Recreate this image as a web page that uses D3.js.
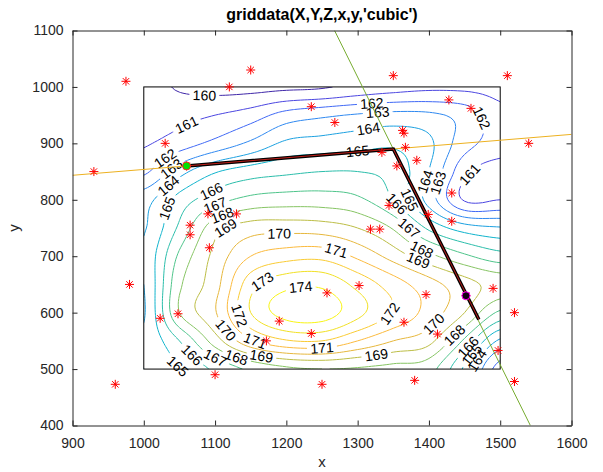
<!DOCTYPE html>
<html><head><meta charset="utf-8">
<script src="https://cdn.jsdelivr.net/npm/d3@7"></script>
<style>body{margin:0;background:#fff;} text{font-family:Arial,"Liberation Sans",Helvetica,sans-serif;}</style>
</head><body><svg id="c" width="603" height="472"></svg>
<script>
// ---------------- data ----------------
const gridX = [1000,1050,1100,1150,1200,1250,1300,1350,1400,1450,1500];
const gridY = [1000,950,900,850,800,750,700,650,600,550,500];
const gridZ = [
  [160.4,159.9,159.7,159.7,159.8,159.9,160.3,160.6,160.8,160.8,160.7],
  [160.6,160.7,161.0,161.5,162.4,162.8,163.1,163.3,163.2,162.6,161.3],
  [160.9,161.5,162.3,163.2,164.2,164.4,164.6,164.8,164.2,162.4,161.6],
  [161.8,163.6,164.9,165.5,165.8,166.0,166.0,165.6,164.0,161.3,160.5],
  [163.6,165.4,166.6,167.3,167.5,167.5,167.2,166.0,163.6,160.9,161.0],
  [163.9,166.2,168.6,169.5,169.6,169.5,169.0,167.9,165.8,164.5,164.1],
  [164.2,167.2,169.3,171.0,171.6,171.7,170.8,169.6,168.3,167.2,166.4],
  [164.0,167.8,169.6,172.6,173.7,173.8,172.7,171.5,170.4,169.4,168.6],
  [163.9,168.0,169.9,173.0,174.4,174.5,173.3,171.9,170.6,169.0,166.8],
  [164.2,166.0,168.5,170.8,171.9,172.0,171.0,170.0,169.3,166.8,163.8],
  [164.0,165.0,166.2,167.2,167.8,168.0,167.9,167.7,167.4,164.8,161.5]
];
const levels = [160,161,162,163,164,165,166,167,168,169,170,171,172,173,174];
const starX = [975,1150,1120,1350,1510,1235,1268,1428,1459,930,1030,1540,1363,1365,1367,1334,1383,1355,1060,1432,1344,1399,1432,1090,1130,1065,1065,1092,1318,1331,980,1023,1048,1190,1235,1172,1257,1302,1396,1452,1490,1365,1412,1497,1520,960,1100,1250,1380,1520];
const starY = [1010,1030,1000,1020,1020,965,937,977,962,850,900,900,923,918,893,884,870,860,860,812,790,774,762,775,775,755,738,715,748,748,650,590,598,585,563,550,635,648,632,630,643,583,562,533,600,473,490,473,480,478];
const orangeX = [900,1600], orangeY = [843.4,915.9];
const greenX = [1267.6,1542.3], greenY = [1100,400];
const pathX = [1060,1350,1470], pathY = [860,890,588];
const boxX = [1000,1500], boxY = [500,1000];
const greenDotX = 1060, greenDotY = 860;
const purpleDotX = 1452, purpleDotY = 630;
const labelLevel = [160,161,162,163,164,165,166,167,168,169,170,171,172,173,174,172,170,171,169,170,171,165,166,167,168,169,162,163,164,165,162,161,163,164,165,166,167,168,169,168,166,165,164];
const labelX = [1084,1063,1030,1040,1026,1020,1093,1100,1108,1107,1191,1268,1131,1175,1224,1343,1404,1252,1327,1112,1154,1072,1079,1107,1131,1166,1320,1327,1315,1299,1495,1460,1411,1387,1369,1355,1369,1385,1385,1439,1447,1453,1460];
const labelY = [987,924,871,853,835,789,812,797,783,766,723,705,595,640,622,601,584,527,524,563,539,524,542,536,524,511,977,957,925,887,954,841,832,838,800,791,746,705,684,560,545,535,521];
const xTicks = [900,1000,1100,1200,1300,1400,1500,1600];
const yTicks = [400,500,600,700,800,900,1000,1100];
const titleText = "griddata(X,Y,Z,x,y,'cubic')";

// ---------------- setup ----------------
const svg = d3.select("#c");
const X = d3.scaleLinear().domain([900,1600]).range([72.5,571.5]);
const Y = d3.scaleLinear().domain([400,1100]).range([425.5,30.5]);
const axisColor = "#262626";
const defs = svg.append("defs");

// parula-like colour ramp (one stop per contour level)
const levelColors = ["#3e26a8","#4a45e0","#3f68f5","#2e88f0","#1ba0e0","#0fb3cc","#2abdaa","#4ec48a","#86c463","#bcbd45","#e6b73c","#fbba3d","#f9cb33","#f1e024","#f8f414"];
const colorOf = d3.scaleOrdinal().domain(levels).range(levelColors);

// ---------------- field ----------------
const nx = gridX.length, ny = gridY.length;
function cr(p0,p1,p2,p3,t){return 0.5*((2*p1)+(-p0+p2)*t+(2*p0-5*p1+4*p2-p3)*t*t+(-p0+3*p1-3*p2+p3)*t*t*t);}
function getZ(i,j){i=Math.max(0,Math.min(nx-1,i));j=Math.max(0,Math.min(ny-1,j));return gridZ[j][i];}
function sample(gx,gy){
  const i=Math.min(Math.floor(gx),nx-2), j=Math.min(Math.floor(gy),ny-2);
  const tx=gx-i, ty=gy-j, r=[];
  for(let m=-1;m<=2;m++) r.push(cr(getZ(i-1,j+m),getZ(i,j+m),getZ(i+1,j+m),getZ(i+2,j+m),tx));
  return cr(r[0],r[1],r[2],r[3],ty);
}
const sub = 10;
const N = (nx-1)*sub+1, M = (ny-1)*sub+1;
const vals = new Array(N*M);
for(let j=0;j<M;j++) for(let i=0;i<N;i++) vals[j*N+i]=sample(i/sub,j/sub);
const stepX = (gridX[nx-1]-gridX[0])/(N-1), stepY = (gridY[ny-1]-gridY[0])/(M-1);
const cX = c => gridX[0]+(c-0.5)*stepX;
const cY = r => gridY[0]+(r-0.5)*stepY;
const conts = d3.contours().size([N,M]).thresholds(levels)(vals);

// clip to box
defs.append("clipPath").attr("id","boxclip").append("rect")
  .attr("x",X(boxX[0])).attr("y",Y(boxY[1]))
  .attr("width",X(boxX[1])-X(boxX[0])).attr("height",Y(boxY[0])-Y(boxY[1]));

// rings in data coordinates
const ringsByLevel = new Map();
conts.forEach(c=>{
  const rings=[];
  c.coordinates.forEach(poly=>poly.forEach(ring=>rings.push(ring.map(p=>[cX(p[0]),cY(p[1])]))));
  ringsByLevel.set(c.value,rings);
});

// label placement: snap each label to its contour and follow its direction
const labels=[];
labelLevel.forEach((L,k)=>{
  const rings=ringsByLevel.get(L)||[];
  const tx=X(labelX[k]), ty=Y(labelY[k]);
  let best=null, bd=1e9;
  rings.forEach(ring=>{
    ring.forEach((p,idx)=>{
      if(p[0]<boxX[0]+1||p[0]>boxX[1]-1||p[1]<boxY[0]+1||p[1]>boxY[1]-1) return;
      const d=Math.hypot(X(p[0])-tx,Y(p[1])-ty);
      if(d<bd){bd=d;best={ring,idx};}
    });
  });
  if(!best||bd>45) return;
  const n=best.ring.length, q=best.ring[best.idx];
  const a=best.ring[(best.idx-4+n)%n], b=best.ring[(best.idx+4)%n];
  let ang=Math.atan2(Y(b[1])-Y(a[1]),X(b[0])-X(a[0]))*180/Math.PI;
  if(ang>90) ang-=180; if(ang<-90) ang+=180;
  labels.push({L,x:X(q[0]),y:Y(q[1]),ang});
});

// masks (gap in each contour at its own labels)
levels.forEach(L=>{
  const m=defs.append("mask").attr("id","mk"+L).attr("maskUnits","userSpaceOnUse")
    .attr("x",0).attr("y",0).attr("width",603).attr("height",472);
  m.append("rect").attr("width",603).attr("height",472).attr("fill","#fff");
  labels.filter(d=>d.L===L).forEach(d=>{
    m.append("rect").attr("x",-15).attr("y",-6).attr("width",30).attr("height",12)
      .attr("transform",`translate(${d.x},${d.y}) rotate(${d.ang})`).attr("fill","#000");
  });
});

// ---------------- draw ----------------
const gC = svg.append("g").attr("clip-path","url(#boxclip)");
conts.forEach(c=>{
  let s="";
  c.coordinates.forEach(poly=>poly.forEach(ring=>{
    ring.forEach((p,k)=>{s+=(k?"L":"M")+X(cX(p[0])).toFixed(2)+","+Y(cY(p[1])).toFixed(2);});
    s+="Z";
  }));
  gC.append("path").attr("d",s).attr("fill","none").attr("stroke",colorOf(c.value))
    .attr("stroke-width",1).attr("stroke-linejoin","round").attr("mask",`url(#mk${c.value})`);
});

svg.append("g").selectAll("text").data(labels).join("text")
  .attr("transform",d=>`translate(${d.x},${d.y}) rotate(${d.ang})`)
  .attr("text-anchor","middle").attr("dy","0.35em")
  .attr("font-size",14).attr("fill","#000").text(d=>d.L);

// box
svg.append("rect").attr("x",X(boxX[0])).attr("y",Y(boxY[1]))
  .attr("width",X(boxX[1])-X(boxX[0])).attr("height",Y(boxY[0])-Y(boxY[1]))
  .attr("fill","none").attr("stroke","#000").attr("stroke-width",1);

// plot-area clip for lines
defs.append("clipPath").attr("id","axclip").append("rect")
  .attr("x",X(900)).attr("y",Y(1100)).attr("width",X(1600)-X(900)).attr("height",Y(400)-Y(1100));
const gL = svg.append("g").attr("clip-path","url(#axclip)");
const line = d3.line().x(d=>X(d[0])).y(d=>Y(d[1]));
gL.append("path").attr("d",line(d3.zip(orangeX,orangeY))).attr("fill","none").attr("stroke","#EDB120").attr("stroke-width",1);
gL.append("path").attr("d",line(d3.zip(greenX,greenY))).attr("fill","none").attr("stroke","#77AC30").attr("stroke-width",1);
gL.append("path").attr("d",line(d3.zip(pathX,pathY))).attr("fill","none").attr("stroke","#000").attr("stroke-width",3.5).attr("stroke-linejoin","miter");
gL.append("path").attr("d",line(d3.zip(pathX,pathY))).attr("fill","none").attr("stroke","#c0201a").attr("stroke-width",1);

// stars
const star = "M-4.5,0L4.5,0M0,-4.5L0,4.5M-3.2,-3.2L3.2,3.2M-3.2,3.2L3.2,-3.2";
svg.append("g").selectAll("path").data(d3.zip(starX,starY)).join("path")
  .attr("transform",d=>`translate(${X(d[0])},${Y(d[1])})`).attr("d",star)
  .attr("stroke","#ff0000").attr("stroke-width",1).attr("fill","none");

// dots
svg.append("circle").attr("cx",X(greenDotX)).attr("cy",Y(greenDotY)).attr("r",4)
  .attr("fill","#00e000").attr("stroke","#ff2020").attr("stroke-width",1);
svg.append("circle").attr("cx",X(purpleDotX)).attr("cy",Y(purpleDotY)).attr("r",4)
  .attr("fill","#120012").attr("stroke","#ff00ff").attr("stroke-width",1);

// ---------------- axes ----------------
function styleAxis(g){
  g.select(".domain").attr("stroke",axisColor);
  g.selectAll(".tick line").attr("stroke",axisColor);
  g.selectAll(".tick text").attr("fill",axisColor).attr("font-size",14).attr("font-family","Arial, 'Liberation Sans', sans-serif");
}
svg.append("g").attr("transform",`translate(0,${Y(400)})`)
  .call(d3.axisBottom(X).tickValues(xTicks).tickSizeInner(-5).tickSizeOuter(0).tickPadding(13).tickFormat(d3.format("d")))
  .call(styleAxis);
svg.append("g").attr("transform",`translate(0,${Y(1100)})`)
  .call(d3.axisTop(X).tickValues(xTicks).tickSizeInner(-5).tickSizeOuter(0).tickFormat(""))
  .call(styleAxis);
svg.append("g").attr("transform",`translate(${X(900)},0)`)
  .call(d3.axisLeft(Y).tickValues(yTicks).tickSizeInner(-5).tickSizeOuter(0).tickPadding(9).tickFormat(d3.format("d")))
  .call(styleAxis);
svg.append("g").attr("transform",`translate(${X(1600)},0)`)
  .call(d3.axisRight(Y).tickValues(yTicks).tickSizeInner(-5).tickSizeOuter(0).tickFormat(""))
  .call(styleAxis);

// titles
svg.append("text").attr("x",(X(900)+X(1600))/2).attr("y",20).attr("text-anchor","middle")
  .attr("font-size",16).attr("font-weight","bold").attr("fill","#000").text(titleText);
svg.append("text").attr("x",(X(900)+X(1600))/2).attr("y",467).attr("text-anchor","middle")
  .attr("font-size",15).attr("fill",axisColor).text("x");
svg.append("text").attr("transform",`translate(19,${(Y(400)+Y(1100))/2}) rotate(-90)`).attr("text-anchor","middle")
  .attr("font-size",15).attr("fill",axisColor).text("y");
</script></body></html>
